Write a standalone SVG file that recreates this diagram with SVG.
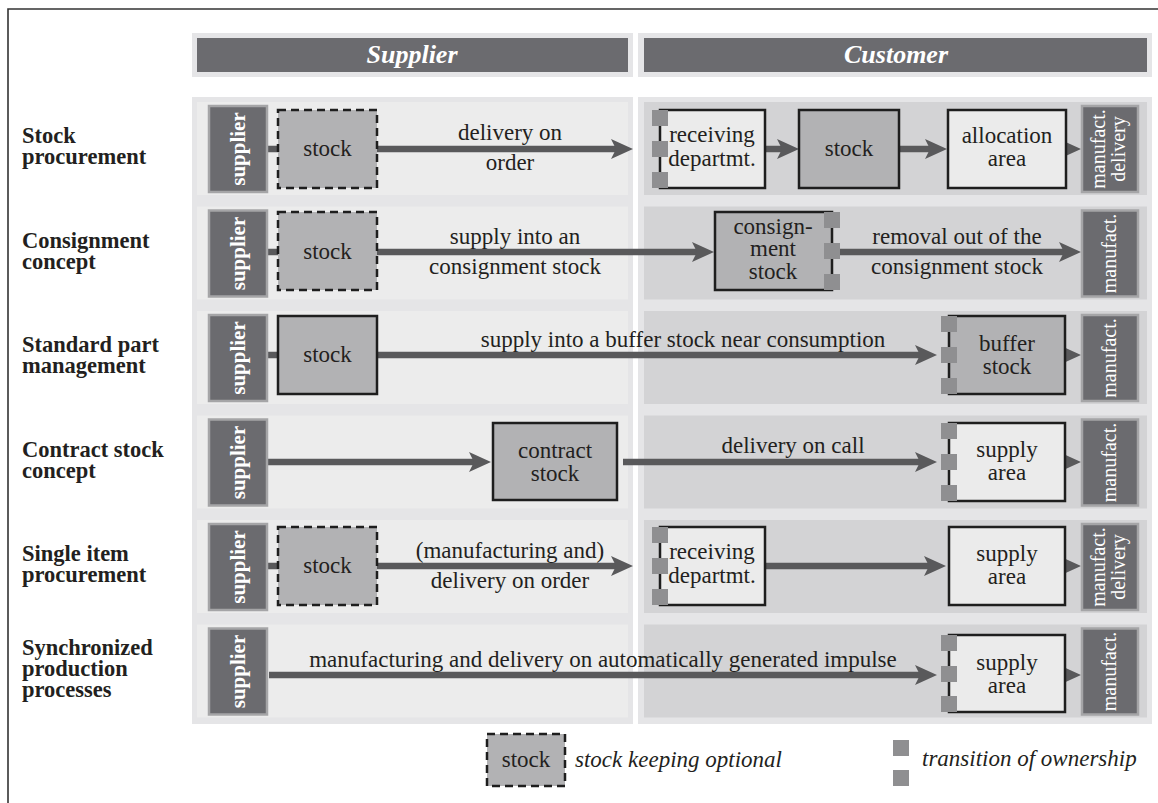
<svg xmlns="http://www.w3.org/2000/svg" width="1158" height="803" viewBox="0 0 1158 803" font-family="'Liberation Serif', 'DejaVu Serif', serif">
<style>
.col{fill:#e5e5e7}
.bgS{fill:#ececec}
.bgC{fill:#d3d3d5}
.hd{fill:#6b6b6f}
.sup{fill:#6b6b6f;stroke:#a5a5a7;stroke-width:2.5}
.stk{fill:#b2b2b4;stroke:#1e1e1e;stroke-width:2.5}
.opt{fill:#b2b2b4;stroke:#1e1e1e;stroke-width:2.5;stroke-dasharray:8 5}
.lt{fill:#ebebeb;stroke:#1e1e1e;stroke-width:2.5}
.sq{fill:#8f8f91}
.ln{stroke:#59595b;stroke-width:6.5;fill:none;marker-end:url(#ah)}
.stub{stroke:#59595b;stroke-width:6.5;fill:none}
text{font-family:'Liberation Serif', 'DejaVu Serif', serif}
.t{font-size:23px;fill:#231f20;text-anchor:middle}
.lab{font-size:22.5px;font-weight:bold;fill:#231f20}
.hdt{font-size:26px;font-weight:bold;font-style:italic;fill:#ffffff;text-anchor:middle}
.vs{font-size:21px;font-weight:bold;fill:#ffffff;text-anchor:middle}
.vm{font-size:20px;fill:#ffffff;text-anchor:middle}
.it{font-size:23px;font-style:italic;fill:#231f20}
</style>
<defs>
<marker id="ah" markerUnits="userSpaceOnUse" markerWidth="24" markerHeight="22" refX="5" refY="10" orient="auto">
<path d="M0,0 L22,10 L0,20 L5,10 Z" fill="#59595b"/>
</marker>
</defs>
<rect x="0" y="0" width="1158" height="803" fill="#ffffff"/>
<path d="M8,803 V9 H1158" fill="none" stroke="#333333" stroke-width="1.6"/>

<g id="backgrounds">
<rect x="192" y="33" width="441" height="44" class="col"/>
<rect x="197" y="38" width="431" height="34" class="hd"/>
<rect x="638" y="33" width="514" height="44" class="col"/>
<rect x="644" y="38" width="503" height="34" class="hd"/>
<rect x="192" y="97" width="441" height="627" class="col"/>
<rect x="638" y="97" width="514" height="627" class="col"/>
<rect x="197" y="102" width="431" height="93" class="bgS"/>
<rect x="197" y="206.5" width="431" height="93" class="bgS"/>
<rect x="197" y="311" width="431" height="93" class="bgS"/>
<rect x="197" y="415.5" width="431" height="93" class="bgS"/>
<rect x="197" y="520" width="431" height="93" class="bgS"/>
<rect x="197" y="624.5" width="431" height="93" class="bgS"/>
<rect x="644" y="102" width="503" height="93" class="bgC"/>
<rect x="644" y="206.5" width="503" height="93" class="bgC"/>
<rect x="644" y="311" width="503" height="93" class="bgC"/>
<rect x="644" y="415.5" width="503" height="93" class="bgC"/>
<rect x="644" y="520" width="503" height="93" class="bgC"/>
<rect x="644" y="624.5" width="503" height="93" class="bgC"/>
</g>

<g id="headers">
<text x="412" y="63" class="hdt">Supplier</text>
<text x="896" y="63" class="hdt">Customer</text>
</g>

<g id="row-labels">
<text class="lab"><tspan x="22" y="143">Stock</tspan><tspan x="22" y="164">procurement</tspan></text>
<text class="lab"><tspan x="22" y="247.5">Consignment</tspan><tspan x="22" y="268.5">concept</tspan></text>
<text class="lab"><tspan x="22" y="352">Standard part</tspan><tspan x="22" y="373">management</tspan></text>
<text class="lab"><tspan x="22" y="456.5">Contract stock</tspan><tspan x="22" y="477.5">concept</tspan></text>
<text class="lab"><tspan x="22" y="561">Single item</tspan><tspan x="22" y="582">procurement</tspan></text>
<text class="lab"><tspan x="22" y="655">Synchronized</tspan><tspan x="22" y="676">production</tspan><tspan x="22" y="697">processes</tspan></text>
</g>

<g id="connectors">
<line x1="267" y1="149" x2="279" y2="149" class="stub"/>
<line x1="377" y1="149" x2="616" y2="149" class="ln"/>
<line x1="765" y1="149" x2="782" y2="149" class="ln"/>
<line x1="899" y1="149" x2="930" y2="149" class="ln"/>
<line x1="1058" y1="149" x2="1064" y2="149" class="ln"/>

<line x1="267" y1="252" x2="279" y2="252" class="stub"/>
<line x1="377" y1="252" x2="697" y2="252" class="ln"/>
<line x1="840" y1="252" x2="1064" y2="252" class="ln"/>

<line x1="267" y1="355" x2="279" y2="355" class="stub"/>
<line x1="377" y1="355" x2="920" y2="355" class="ln"/>
<line x1="1058" y1="355" x2="1064" y2="355" class="ln"/>

<line x1="267" y1="462" x2="474" y2="462" class="ln"/>
<line x1="623" y1="462" x2="920" y2="462" class="ln"/>
<line x1="1058" y1="462" x2="1064" y2="462" class="ln"/>

<line x1="267" y1="566" x2="279" y2="566" class="stub"/>
<line x1="377" y1="566" x2="616" y2="566" class="ln"/>
<line x1="765" y1="566" x2="929" y2="566" class="ln"/>
<line x1="1058" y1="566" x2="1064" y2="566" class="ln"/>

<line x1="269" y1="675" x2="920" y2="675" class="ln"/>
<line x1="1058" y1="675" x2="1064" y2="675" class="ln"/>
</g>

<g id="connector-labels">
<text class="t"><tspan x="510" y="140">delivery on</tspan><tspan x="510" y="170">order</tspan></text>
<text class="t"><tspan x="515" y="244">supply into an</tspan><tspan x="515" y="274">consignment stock</tspan></text>
<text class="t"><tspan x="957" y="244">removal out of the</tspan><tspan x="957" y="274">consignment stock</tspan></text>
<text class="t" x="683" y="347">supply into a buffer stock near consumption</text>
<text class="t" x="793" y="453">delivery on call</text>
<text class="t"><tspan x="510" y="558">(manufacturing and)</tspan><tspan x="510" y="588">delivery on order</tspan></text>
<text class="t" x="603" y="667">manufacturing and delivery on automatically generated impulse</text>
</g>

<!-- Row 1 -->
<g id="r1-supplier"><rect x="209" y="106" width="58" height="86" class="sup"/><text class="vs" transform="translate(245,149) rotate(-90)">supplier</text></g>
<g id="r1-stock"><rect x="278" y="110" width="99" height="78" class="opt"/><text class="t" x="327.5" y="156">stock</text></g>
<g id="r1-receiving"><rect x="660" y="110" width="105" height="78" class="lt"/><text class="t"><tspan x="712" y="142">receiving</tspan><tspan x="712" y="166">departmt.</tspan></text>
<rect x="652" y="110" width="16" height="16" class="sq"/><rect x="652" y="141" width="16" height="16" class="sq"/><rect x="652" y="172" width="16" height="16" class="sq"/></g>
<g id="r1-stock-c"><rect x="799" y="110" width="100" height="78" class="stk"/><text class="t" x="849" y="156">stock</text></g>
<g id="r1-allocation"><rect x="948" y="110" width="118" height="78" class="lt"/><text class="t"><tspan x="1007" y="143">allocation</tspan><tspan x="1007" y="166">area</tspan></text></g>
<g id="r1-manufact"><rect x="1082" y="106" width="56" height="86" class="sup"/><text class="vm" transform="translate(1105,149) rotate(-90)">manufact.</text><text class="vm" transform="translate(1125,149) rotate(-90)">delivery</text></g>

<!-- Row 2 -->
<g id="r2-supplier"><rect x="209" y="210.5" width="58" height="86" class="sup"/><text class="vs" transform="translate(245,253.5) rotate(-90)">supplier</text></g>
<g id="r2-stock"><rect x="278" y="212" width="99" height="78" class="opt"/><text class="t" x="327.5" y="259">stock</text></g>
<g id="r2-consignment"><rect x="715" y="212" width="117" height="78" class="stk"/><text class="t"><tspan x="773" y="234">consign-</tspan><tspan x="773" y="256">ment</tspan><tspan x="773" y="279">stock</tspan></text>
<rect x="824" y="212" width="16" height="16" class="sq"/><rect x="824" y="243" width="16" height="16" class="sq"/><rect x="824" y="274" width="16" height="16" class="sq"/></g>
<g id="r2-manufact"><rect x="1082" y="210.5" width="56" height="86" class="sup"/><text class="vm" transform="translate(1116,253.5) rotate(-90)">manufact.</text></g>

<!-- Row 3 -->
<g id="r3-supplier"><rect x="209" y="315" width="58" height="86" class="sup"/><text class="vs" transform="translate(245,358) rotate(-90)">supplier</text></g>
<g id="r3-stock"><rect x="278" y="316" width="99" height="78" class="stk"/><text class="t" x="327.5" y="362">stock</text></g>
<g id="r3-buffer"><rect x="949" y="316" width="116" height="78" class="stk"/><text class="t"><tspan x="1007" y="351">buffer</tspan><tspan x="1007" y="374">stock</tspan></text>
<rect x="941" y="316" width="16" height="16" class="sq"/><rect x="941" y="347" width="16" height="16" class="sq"/><rect x="941" y="378" width="16" height="16" class="sq"/></g>
<g id="r3-manufact"><rect x="1082" y="315" width="56" height="86" class="sup"/><text class="vm" transform="translate(1116,358) rotate(-90)">manufact.</text></g>

<!-- Row 4 -->
<g id="r4-supplier"><rect x="209" y="419.5" width="58" height="86" class="sup"/><text class="vs" transform="translate(245,462.5) rotate(-90)">supplier</text></g>
<g id="r4-contract"><rect x="493" y="423" width="124" height="77" class="stk"/><text class="t"><tspan x="555" y="458">contract</tspan><tspan x="555" y="481">stock</tspan></text></g>
<g id="r4-supply"><rect x="949" y="423" width="116" height="78" class="lt"/><text class="t"><tspan x="1007" y="457">supply</tspan><tspan x="1007" y="480">area</tspan></text>
<rect x="941" y="423" width="16" height="16" class="sq"/><rect x="941" y="454" width="16" height="16" class="sq"/><rect x="941" y="485" width="16" height="16" class="sq"/></g>
<g id="r4-manufact"><rect x="1082" y="419.5" width="56" height="86" class="sup"/><text class="vm" transform="translate(1116,462.5) rotate(-90)">manufact.</text></g>

<!-- Row 5 -->
<g id="r5-supplier"><rect x="209" y="524" width="58" height="86" class="sup"/><text class="vs" transform="translate(245,567) rotate(-90)">supplier</text></g>
<g id="r5-stock"><rect x="278" y="527" width="99" height="78" class="opt"/><text class="t" x="327.5" y="573">stock</text></g>
<g id="r5-receiving"><rect x="660" y="527" width="105" height="78" class="lt"/><text class="t"><tspan x="712" y="559">receiving</tspan><tspan x="712" y="583">departmt.</tspan></text>
<rect x="652" y="527" width="16" height="16" class="sq"/><rect x="652" y="558" width="16" height="16" class="sq"/><rect x="652" y="589" width="16" height="16" class="sq"/></g>
<g id="r5-supply"><rect x="949" y="527" width="116" height="78" class="lt"/><text class="t"><tspan x="1007" y="561">supply</tspan><tspan x="1007" y="584">area</tspan></text></g>
<g id="r5-manufact"><rect x="1082" y="524" width="56" height="86" class="sup"/><text class="vm" transform="translate(1105,567) rotate(-90)">manufact.</text><text class="vm" transform="translate(1125,567) rotate(-90)">delivery</text></g>

<!-- Row 6 -->
<g id="r6-supplier"><rect x="209" y="628.5" width="58" height="86" class="sup"/><text class="vs" transform="translate(245,671.5) rotate(-90)">supplier</text></g>
<g id="r6-supply"><rect x="949" y="635" width="116" height="77" class="lt"/><text class="t"><tspan x="1007" y="670">supply</tspan><tspan x="1007" y="693">area</tspan></text>
<rect x="941" y="635" width="16" height="16" class="sq"/><rect x="941" y="666" width="16" height="16" class="sq"/><rect x="941" y="696" width="16" height="16" class="sq"/></g>
<g id="r6-manufact"><rect x="1082" y="628.5" width="56" height="86" class="sup"/><text class="vm" transform="translate(1116,671.5) rotate(-90)">manufact.</text></g>

<!-- Legend -->
<g id="legend-optional"><rect x="487" y="734" width="78" height="52" class="opt"/><text class="t" x="526" y="767">stock</text><text class="it" x="575" y="767">stock keeping optional</text></g>
<g id="legend-ownership"><rect x="893" y="740" width="16" height="16" class="sq"/><rect x="893" y="770" width="16" height="16" class="sq"/><text class="it" x="922" y="766">transition of ownership</text></g>
</svg>
